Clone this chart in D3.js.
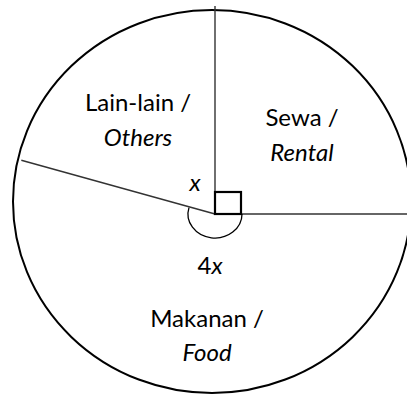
<!DOCTYPE html>
<html>
<head>
<meta charset="utf-8">
<title>Pie sketch</title>
<style>
  body { margin: 0; background: #fff; }
  text { font-family: 'Lato', 'Open Sans', sans-serif; font-size: 24px; fill: #000; }
</style>
</head>
<body>
<div id="chart"></div>
<script src="https://cdn.jsdelivr.net/npm/d3@7"></script>
<script>
var width = 407,
  height = 394;

// slices as drawn (degrees, clockwise from 12 o'clock)
var sliceNames = ["Sewa /", "Makanan /", "Lain-lain /"];
var sliceNamesEn = ["Rental", "Food", "Others"];
var sliceStart = [0, 90, 285.5];
var sliceEnd = [90, 285.5, 360];
var angleLabels = ["x", "4x"];

var cx = 215, cy = 214;

var rad = d3.scaleLinear().domain([0, 360]).range([0, 2 * Math.PI]);

var svg = d3.select("#chart").append("svg")
  .attr("width", width)
  .attr("height", height);

// outer rim (slightly off-centre in the sketch)
svg.append("ellipse")
  .attr("cx", 212)
  .attr("cy", 201.5)
  .attr("rx", 199)
  .attr("ry", 191.5)
  .attr("fill", "none")
  .attr("stroke", "#000")
  .attr("stroke-width", 2);

var g = svg.append("g")
  .attr("transform", "translate(" + cx + "," + cy + ")");

// radial boundary lines
var lineLen = { 0: 208, 90: 200, 285.5: 201 };
g.selectAll("line.edge")
  .data(sliceStart)
  .enter().append("line")
  .attr("class", "edge")
  .attr("x1", 0).attr("y1", 0)
  .attr("x2", function(d) { return Math.sin(rad(d)) * lineLen[d]; })
  .attr("y2", function(d) { return -Math.cos(rad(d)) * lineLen[d]; })
  .attr("stroke", "#333")
  .attr("stroke-width", 1.4);

// right angle mark for rental
g.append("rect")
  .attr("x", 0)
  .attr("y", -22)
  .attr("width", 26)
  .attr("height", 22)
  .attr("fill", "none")
  .attr("stroke", "#000")
  .attr("stroke-width", 2.2);

// arc mark for the 4x angle
var p = d3.path();
p.arc(0, 0, 1, rad(sliceStart[1]) - Math.PI / 2, rad(sliceEnd[1]) - Math.PI / 2);
g.append("path")
  .attr("d", p.toString())
  .attr("transform", "scale(27,24)")
  .attr("fill", "none")
  .attr("stroke", "#000")
  .attr("stroke-width", 1.3)
  .attr("vector-effect", "non-scaling-stroke");

// slice labels
var labelPos = [[302, 126, 161], [207, 327, 361], [138, 111, 146]];
sliceNames.forEach(function(name, i) {
  var lp = labelPos[i];
  svg.append("text")
    .attr("x", lp[0]).attr("y", lp[1])
    .attr("text-anchor", "middle")
    .text(name);
  svg.append("text")
    .attr("x", lp[0]).attr("y", lp[2])
    .attr("text-anchor", "middle")
    .style("font-style", "italic")
    .text(sliceNamesEn[i]);
});

// angle labels
svg.append("text")
  .attr("x", 195).attr("y", 191)
  .attr("text-anchor", "middle")
  .style("font-style", "italic")
  .text(angleLabels[0]);

var t4 = svg.append("text")
  .attr("x", 210).attr("y", 274)
  .attr("text-anchor", "middle");
t4.append("tspan").text(angleLabels[1].slice(0, 1));
t4.append("tspan").style("font-style", "italic").text(angleLabels[1].slice(1));
</script>
</body>
</html>
